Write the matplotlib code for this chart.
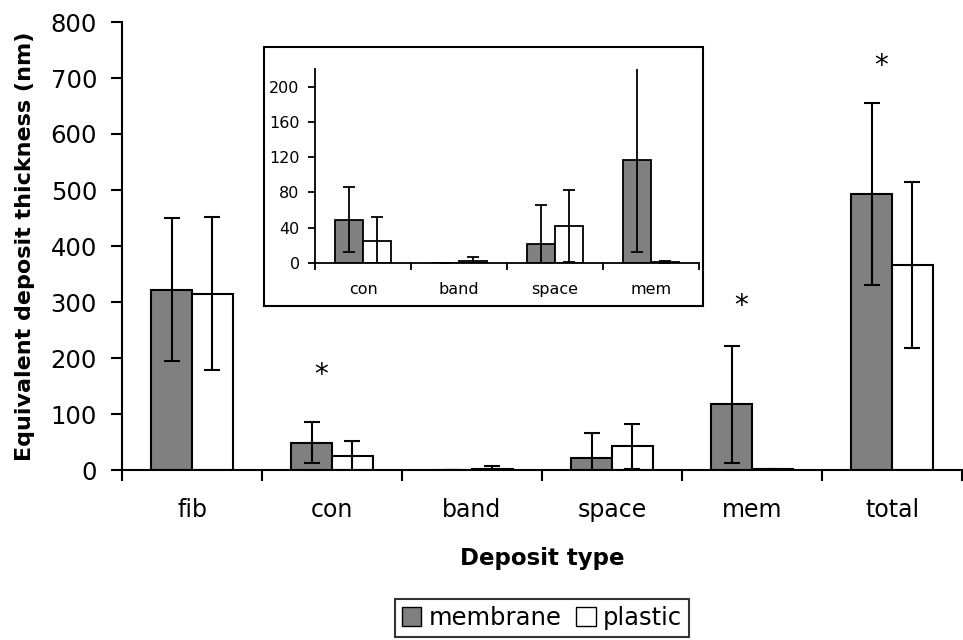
import numpy as np
import matplotlib.pyplot as plt
from matplotlib.patches import Rectangle, Patch

# values (nm)
categories = ['fib', 'con', 'band', 'space', 'mem', 'total']
membrane = [322, 49, 0, 21, 117, 493]
membrane_err = [128, 37, 0, 45, 104, 163]
plastic = [315, 25, 2, 42, 1, 366]
plastic_err = [136, 27, 5, 41, 1, 148]

# significance markers: category index and height
star_idx = [1, 4, 5]
star_y = [170, 292, 721]

# inset shows the small deposit types
inset_cats = ['con', 'band', 'space', 'mem']

gray = '#808080'

fig = plt.figure(figsize=(9.63, 6.4), dpi=100)
W, H = 963, 640


def px_axes(x0, y0, x1, y1):
    # pixel box (top-left origin) -> figure fraction
    return [x0 / W, (H - y1) / H, (x1 - x0) / W, (y1 - y0) / H]


ax = fig.add_axes(px_axes(122, 22, 962, 470))
x = np.arange(len(categories))
bw = 0.29
ax.bar(x - bw / 2, membrane, bw, color=gray, edgecolor='black', linewidth=1.5,
       yerr=membrane_err, capsize=6, error_kw=dict(elinewidth=1.5, capthick=1.5))
ax.bar(x + bw / 2, plastic, bw, color='white', edgecolor='black', linewidth=1.5,
       yerr=plastic_err, capsize=6, error_kw=dict(elinewidth=1.5, capthick=1.5))
for i, yv in zip(star_idx, star_y):
    ax.text(x[i] - 0.08, yv, '*', ha='center', va='center', fontsize=20)

ax.set_xlim(-0.5, len(categories) - 0.5)
ax.set_ylim(0, 800)
ax.set_yticks(range(0, 801, 100))
ax.set_xticks(x)
ax.set_xticklabels(categories, fontsize=17)
ax.set_xticks(np.arange(-0.5, len(categories), 1), minor=True)
ax.tick_params(axis='x', which='major', length=0, pad=20)
ax.tick_params(axis='x', which='minor', length=8, width=1.5, direction='out')
ax.tick_params(axis='y', labelsize=17.5, length=8, width=1.5, direction='out', pad=10)
for s in ['top', 'right']:
    ax.spines[s].set_visible(False)
for s in ['left', 'bottom']:
    ax.spines[s].set_linewidth(1.5)
ax.set_ylabel('Equivalent deposit thickness (nm)', fontsize=16, fontweight='bold', labelpad=11)
ax.set_xlabel('Deposit type', fontsize=16.5, fontweight='bold', labelpad=18)

ax.legend(handles=[Patch(facecolor=gray, edgecolor='black', label='membrane'),
                   Patch(facecolor='white', edgecolor='black', label='plastic')],
          loc='center', bbox_to_anchor=(542 / W, (H - 618) / H), bbox_transform=fig.transFigure,
          ncol=2, fontsize=17.5, frameon=True, fancybox=False, edgecolor='black',
          handlelength=0.8, handleheight=0.8, handletextpad=0.3, columnspacing=0.6,
          borderpad=0.3, borderaxespad=0).get_frame().set_linewidth(1.5)

# inset frame
fig.patches.append(Rectangle((264 / W, (H - 306) / H), (703 - 264) / W, (306 - 47) / H,
                             transform=fig.transFigure, facecolor='white',
                             edgecolor='black', linewidth=1.5, zorder=2))

ix = fig.add_axes(px_axes(315, 69, 699, 263))
ix.set_zorder(3)
ix.patch.set_alpha(0)
sel = [categories.index(c) for c in inset_cats]
xi = np.arange(len(inset_cats))
ix.bar(xi - bw / 2, [membrane[i] for i in sel], bw, color=gray, edgecolor='black',
       linewidth=1.3, yerr=[membrane_err[i] for i in sel], capsize=4,
       error_kw=dict(elinewidth=1.3, capthick=1.3))
ix.bar(xi + bw / 2, [plastic[i] for i in sel], bw, color='white', edgecolor='black',
       linewidth=1.3, yerr=[plastic_err[i] for i in sel], capsize=4,
       error_kw=dict(elinewidth=1.3, capthick=1.3))
ix.set_xlim(-0.5, len(inset_cats) - 0.5)
ix.set_ylim(0, 220)
ix.set_yticks(range(0, 201, 40))
ix.set_xticks(xi)
ix.set_xticklabels(inset_cats, fontsize=11.5)
ix.set_xticks(np.arange(-0.5, len(inset_cats), 1), minor=True)
ix.tick_params(axis='x', which='major', length=0, pad=14)
ix.tick_params(axis='x', which='minor', length=5, width=1.3, direction='out')
ix.tick_params(axis='y', labelsize=11.5, length=5, width=1.3, direction='out', pad=6)
for s in ['top', 'right']:
    ix.spines[s].set_visible(False)
for s in ['left', 'bottom']:
    ix.spines[s].set_linewidth(1.3)

fig.savefig('out.png', dpi=100)
